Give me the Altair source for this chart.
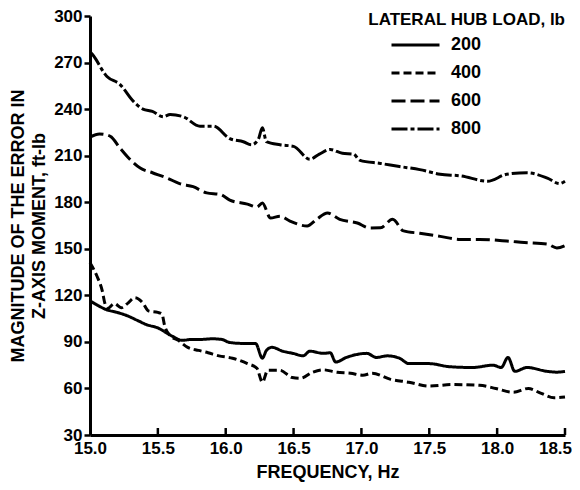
import altair as alt
import pandas as pd

# ---- data ----
loads = ["200", "400", "600", "800"]

freq_200 = [15.0, 15.06, 15.12, 15.2, 15.27, 15.35, 15.42, 15.5, 15.57, 15.61, 15.68, 15.75,
            15.82, 15.9, 15.97, 16.03, 16.13, 16.22, 16.27, 16.3, 16.34, 16.42, 16.5, 16.57,
            16.62, 16.72, 16.77, 16.81, 16.89, 17.04, 17.11, 17.19, 17.28, 17.35, 17.5, 17.65,
            17.82, 17.97, 18.03, 18.08, 18.13, 18.22, 18.37, 18.44, 18.5]
mom_200 = [116.5, 113.4, 110.8, 109.0, 107.0, 103.8, 101.0, 99.0, 95.5, 93.5, 91.0, 91.6,
           91.6, 92.0, 91.6, 89.6, 89.0, 89.0, 79.5, 84.5, 86.5, 84.0, 82.5, 81.0,
           84.0, 82.6, 83.0, 77.0, 80.0, 82.6, 80.0, 81.0, 79.5, 76.0, 76.0, 74.0,
           73.5, 75.0, 73.5, 80.0, 71.0, 73.5, 71.0, 70.5, 71.0]

freq_400 = [15.0, 15.05, 15.09, 15.11, 15.13, 15.18, 15.23, 15.28, 15.33, 15.39, 15.43,
            15.5, 15.53, 15.55, 15.59, 15.65, 15.72, 15.8, 15.87, 15.95, 16.05, 16.16,
            16.23, 16.27, 16.31, 16.4, 16.49, 16.55, 16.64, 16.72, 16.82, 16.92, 17.01,
            17.08, 17.21, 17.35, 17.5, 17.67, 17.87, 17.99, 18.12, 18.23, 18.32, 18.42, 18.5]
mom_400 = [141.0, 132.6, 123.0, 114.7, 111.5, 114.7, 112.0, 115.0, 118.5, 115.0, 110.0,
           109.0, 108.0, 100.5, 94.0, 91.0, 86.5, 84.5, 83.0, 81.0, 79.5, 76.0,
           73.0, 64.0, 71.7, 71.7, 67.0, 66.5, 70.4, 72.0, 70.4, 69.8, 68.5,
           69.8, 66.0, 64.0, 61.5, 62.5, 62.0, 60.0, 57.5, 60.0, 57.0, 54.0, 54.5]

freq_600 = [15.0, 15.07, 15.15, 15.22, 15.29, 15.37, 15.46, 15.57, 15.66, 15.76, 15.86,
            15.96, 16.03, 16.16, 16.23, 16.27, 16.33, 16.4, 16.47, 16.6, 16.67, 16.75,
            16.84, 16.97, 17.06, 17.14, 17.23, 17.31, 17.43, 17.58, 17.73, 17.87, 18.07,
            18.2, 18.37, 18.44, 18.5]
mom_600 = [222.0, 224.0, 222.5, 215.0, 208.0, 202.0, 199.0, 195.5, 192.0, 190.0, 186.0,
           185.0, 181.4, 178.8, 176.9, 179.5, 169.8, 171.0, 168.0, 164.7, 169.0, 173.0,
           169.0, 166.6, 163.4, 163.5, 169.0, 161.5, 160.0, 158.0, 156.0, 156.0, 155.0,
           154.0, 153.0, 150.5, 152.0]

freq_800 = [15.0, 15.02, 15.125, 15.22, 15.32, 15.39, 15.46, 15.54, 15.59, 15.69, 15.81,
            15.91, 16.03, 16.13, 16.19, 16.24, 16.27, 16.3, 16.4, 16.5, 16.62, 16.69,
            16.77, 16.86, 16.94, 16.99, 17.14, 17.28, 17.43, 17.58, 17.73, 17.93, 18.07,
            18.22, 18.37, 18.46, 18.5]
mom_800 = [277.0, 275.0, 261.0, 256.0, 245.0, 240.0, 238.5, 235.0, 236.5, 235.0, 229.0,
           229.0, 221.0, 219.0, 217.0, 220.5, 228.0, 219.0, 217.0, 216.0, 207.7, 211.0,
           214.0, 211.5, 211.0, 207.0, 205.0, 203.0, 201.0, 198.0, 197.0, 193.5, 198.0,
           199.0, 195.5, 192.0, 193.5]

x_tick_values = [15.0, 15.5, 16.0, 16.5, 17.0, 17.5, 18.0, 18.5]
y_tick_values = [30, 60, 90, 120, 150, 180, 210, 240, 270, 300]
inner_x_ticks = [15.5, 16.0, 16.5, 17.0, 17.5, 18.0, 18.5]

rows = []
for load, fs, ms in zip(loads, [freq_200, freq_400, freq_600, freq_800],
                        [mom_200, mom_400, mom_600, mom_800]):
    for i, (f, m) in enumerate(zip(fs, ms)):
        rows.append({"load": load, "freq": f, "moment": m, "order": i})
df = pd.DataFrame(rows)
ticks_df = pd.DataFrame({"tick": inner_x_ticks})

FONT = "Liberation Sans"

x_scale = alt.Scale(domain=[15.0, 18.5], nice=False, zero=False)
y_scale = alt.Scale(domain=[30, 300], nice=False, zero=False)

lines = alt.Chart(df).mark_line(strokeWidth=3, color="black", interpolate="monotone").encode(
    x=alt.X("freq:Q", scale=x_scale,
            axis=alt.Axis(values=x_tick_values, format=".1f", title="FREQUENCY, Hz",
                          tickSize=0, labelPadding=5, titlePadding=7, labelFlush=False,
                          labelOffset={"condition": {"test": "datum.value > 18.4", "value": -10},
                                       "value": 0},
                          titleFontSize=18)),
    y=alt.Y("moment:Q", scale=y_scale,
            axis=alt.Axis(values=y_tick_values, format="d",
                          title=["MAGNITUDE OF THE ERROR IN", "Z-AXIS MOMENT, ft-lb"],
                          tickSize=6, labelPadding=2, titlePadding=5, labelFlush=False,
                          titleFontSize=18, titleLineHeight=21)),
    strokeDash=alt.StrokeDash(
        "load:N",
        scale=alt.Scale(domain=loads, range=[[1, 0], [8, 4], [14, 5], [16, 3, 4, 3]]),
        legend=alt.Legend(title=None, orient="none", legendX=300, legendY=15,
                          symbolType="stroke", symbolSize=2304, symbolStrokeWidth=3,
                          symbolStrokeColor="black", rowPadding=0, clipHeight=28,
                          labelOffset=10,
                          labelFont=FONT, labelFontSize=18, labelFontWeight="bold",
                          labelColor="black", padding=0)),
    order="order:Q",
    detail="load:N",
)

inner_ticks = alt.Chart(ticks_df).mark_rule(strokeWidth=2.5, color="black").encode(
    x=alt.X("tick:Q", scale=x_scale),
    y=alt.datum(30),
    y2=alt.datum(34.5),
)

chart = alt.layer(lines, inner_ticks).properties(
    width=475, height=419,
    title=alt.TitleParams("LATERAL HUB LOAD, lb", anchor="end", frame="group", offset=-22,
                          font=FONT, fontSize=17, fontWeight="bold", color="black"),
    autosize=alt.AutoSizeParams(type="none"),
    padding={"left": 82, "top": 8, "right": 7, "bottom": 47},
).configure_view(stroke=None).configure_axis(
    grid=False, domainColor="black", domainWidth=3, tickColor="black", tickWidth=2.5,
    labelFont=FONT, labelFontSize=17, labelFontWeight="bold", labelColor="black",
    titleFont=FONT, titleFontSize=17, titleFontWeight="bold", titleColor="black",
)

chart.save("out.html", embed_options={"renderer": "svg", "actions": False})
